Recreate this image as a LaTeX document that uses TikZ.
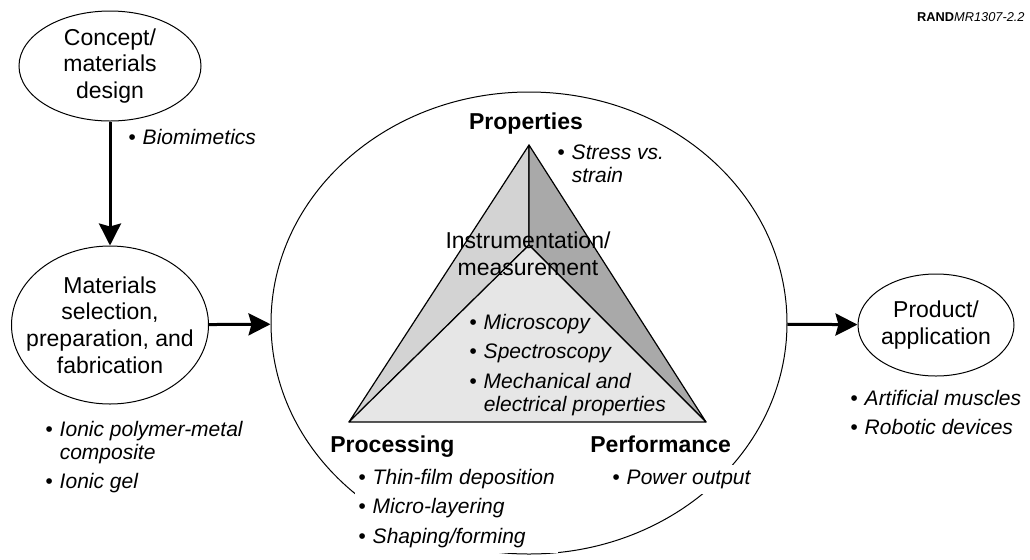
\documentclass[tikz,border=0pt]{standalone}
\usepackage{fontspec}
\setmainfont{Liberation Sans}
\usetikzlibrary{shapes.geometric, arrows.meta, positioning}
\definecolor{leftface}{RGB}{211,211,211}
\definecolor{rightface}{RGB}{169,169,169}
\definecolor{frontface}{RGB}{230,230,230}
\newcommand{\bul}{\textbullet}

\begin{document}
\begin{tikzpicture}[
    x=0.5pt, y=-0.5pt,
    stage/.style={draw, ellipse, line width=0.5pt, inner sep=0pt},
    stagetext/.style={align=center, font=\fontsize{11.5}{13.3}\selectfont},
    heading/.style={font=\fontsize{11.5}{13.3}\selectfont\bfseries, inner sep=1.5pt},
    items/.style={font=\fontsize{10.5}{11.5}\selectfont\itshape, inner sep=1.5pt, anchor=base west},
    face/.style={draw, line width=0.6pt, line join=round},
    flow/.style={-{Stealth[length=11pt, width=11pt, inset=1.5pt]}, line width=1.5pt}
]
    % Frame
    \useasboundingbox (0,0) rectangle (1030,559);

    % Outer ring
    \node[stage, minimum width=258pt, minimum height=231pt] (ring) at (529,323) {};

    % Pyramid
    \coordinate (apex) at (529,145);
    \coordinate (core) at (529,245);
    \coordinate (lbase) at (349,422);
    \coordinate (rbase) at (706,422);
    \filldraw[face, fill=leftface] (apex) -- (core) -- (lbase) -- cycle;
    \filldraw[face, fill=rightface] (apex) -- (rbase) -- (core) -- cycle;
    \filldraw[face, fill=frontface] (core) -- (lbase) -- (rbase) -- cycle;

    % Stages
    \node[stage, minimum width=91pt, minimum height=55pt] (concept) at (110,66) {};
    \node[stagetext] (concepttext) at (concept) {Concept/\\materials\\design};
    \node[stage, minimum width=98.5pt, minimum height=79pt] (selection) at (110,325) {};
    \node[stagetext] (selectiontext) at (selection) {Materials\\selection,\\preparation, and\\fabrication};
    \node[stage, minimum width=78pt, minimum height=51pt] (product) at (936,325) {};
    \node[stagetext] (producttext) at (product) {Product/\\application};

    % Flow
    \draw[flow] (concept) -- (selection);
    \draw[flow] (selection) -- (ring);
    \draw[flow] (ring) -- (product);

    % Corners of the pyramid
    \node[heading, anchor=base] (properties) at (526,129) {Properties};
    \node[heading, anchor=base west, fill=white] (processing) at (327,452) {Processing};
    \node[heading, anchor=base west, fill=white] (performance) at (587,452) {Performance};
    \node[stagetext, anchor=base] (instrument) at (528,275) {Instrumentation/\\measurement};

    % Bullet lists
    \node[items] (biomimetics) at (125,144) {\begin{tabular}[t]{@{}l@{\hspace{3.5pt}}l@{}}
        \bul & Biomimetics\end{tabular}};
    \node[items] (ionic) at (42,436) {\begin{tabular}[t]{@{}l@{\hspace{3.5pt}}l@{}}
        \bul & Ionic polymer-metal\\ & composite\\[3.25pt]
        \bul & Ionic gel\end{tabular}};
    \node[items] (stress) at (554,159) {\begin{tabular}[t]{@{}l@{\hspace{3.5pt}}l@{}}
        \bul & Stress vs.\\ & strain\end{tabular}};
    \node[items] (microscopy) at (466,329) {\begin{tabular}[t]{@{}l@{\hspace{3.5pt}}l@{}}
        \bul & Microscopy\\[3.25pt]
        \bul & Spectroscopy\\[3.25pt]
        \bul & Mechanical and\\ & electrical properties\end{tabular}};
    \node[items, fill=white] (thinfilm) at (355,484) {\begin{tabular}[t]{@{}l@{\hspace{3.5pt}}l@{}}
        \bul & Thin-film deposition\\[3.25pt]
        \bul & Micro-layering\\[3.25pt]
        \bul & Shaping/forming\end{tabular}};
    \node[items, fill=white] (power) at (609,484) {\begin{tabular}[t]{@{}l@{\hspace{3.5pt}}l@{}}
        \bul & Power output\end{tabular}};
    \node[items] (muscles) at (847,405) {\begin{tabular}[t]{@{}l@{\hspace{3.5pt}}l@{}}
        \bul & Artificial muscles\\[3.25pt]
        \bul & Robotic devices\end{tabular}};

    % Figure tag
    \node[anchor=base east, inner sep=0pt, font=\fontsize{6.4}{7}\selectfont] (tag) at (1025,21) {\textbf{RAND}\textit{MR1307-2.2}};
\end{tikzpicture}
\end{document}
